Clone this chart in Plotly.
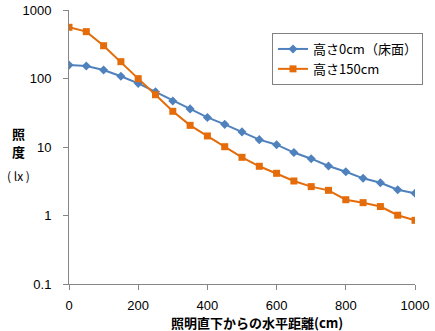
import plotly.graph_objects as go

distance = [0, 50, 100, 150, 200, 250, 300, 350, 400, 450, 500, 550, 600, 650, 700, 750, 800, 850, 900, 950, 1000]
h0 = [157, 152, 133, 108, 85, 64, 47, 36, 27, 21.4, 16.6, 12.8, 10.8, 8.3, 6.75, 5.28, 4.36, 3.49, 3.01, 2.38, 2.11]
h150 = [559, 483, 301, 176, 99.5, 58, 33.2, 20.7, 14.5, 10.1, 7.07, 5.23, 4.13, 3.19, 2.64, 2.33, 1.70, 1.54, 1.35, 1.01, 0.85]
names = ["高さ0cm（床面）", "高さ150cm"]
x_ticks = [0, 200, 400, 600, 800, 1000]
y_ticks = [0.1, 1, 10, 100, 1000]
y_ticklabels = ["0.1", "1", "10", "100", "1000"]

FONT = "Noto Sans CJK JP"
NUMFONT = "Liberation Sans"
W, H = 435, 331
L, R, T, B = 69, 20, 10, 47
PW, PH = W - L - R, H - T - B

fig = go.Figure()
fig.add_trace(go.Scatter(x=distance, y=h0, name=names[0], mode="lines+markers",
                         line=dict(color="#4F81BD", width=2),
                         marker=dict(symbol="diamond", size=7, color="#4F81BD")))
fig.add_trace(go.Scatter(x=distance, y=h150, name=names[1], mode="lines+markers",
                         line=dict(color="#E46C0A", width=2),
                         marker=dict(symbol="square", size=7, color="#E46C0A")))

fig.update_layout(
    width=W, height=H,
    margin=dict(l=L, r=R, t=T, b=B, autoexpand=False),
    plot_bgcolor="white", paper_bgcolor="white",
    font=dict(family=FONT, size=13, color="black"),
    showlegend=True,
    legend=dict(x=(423 - L) / PW, y=1 - (33 - T) / PH,
                xanchor="right", yanchor="top",
                bordercolor="#808080", borderwidth=1, bgcolor="white",
                font=dict(family=FONT, size=13, color="black"),
                tracegroupgap=0, itemwidth=30),
    xaxis=dict(range=[0, 1000], tickvals=x_ticks, showgrid=False, zeroline=False,
               showline=True, linecolor="#868686", linewidth=1,
               ticks="outside", ticklen=5, tickcolor="#868686",
               ticklabelstandoff=4, ticklabeloverflow="allow",
               tickfont=dict(family=NUMFONT, size=13, color="black")),
    yaxis=dict(type="log", range=[-1, 3], tickvals=y_ticks, ticktext=y_ticklabels,
               showgrid=False, zeroline=False,
               showline=True, linecolor="#868686", linewidth=1,
               ticks="outside", ticklen=5, tickcolor="#868686",
               ticklabelstandoff=9, ticklabeloverflow="allow",
               tickfont=dict(family=NUMFONT, size=13, color="black")),
)

fig.add_annotation(text="<b>照明直下からの水平距離(cm)</b>", xref="paper", yref="paper",
                   x=(257 - L) / PW, y=-(322 - (H - B)) / PH,
                   xanchor="center", yanchor="middle", showarrow=False,
                   font=dict(family=FONT, size=13, color="black"))
fig.add_annotation(text="<b>照</b>", xref="paper", yref="paper",
                   x=-(L - 19) / PW, y=1 - (133 - T) / PH,
                   xanchor="center", yanchor="middle", showarrow=False,
                   font=dict(family=FONT, size=13, color="black"))
fig.add_annotation(text="<b>度</b>", xref="paper", yref="paper",
                   x=-(L - 19) / PW, y=1 - (151 - T) / PH,
                   xanchor="center", yanchor="middle", showarrow=False,
                   font=dict(family=FONT, size=13, color="black"))
fig.add_annotation(text="( lx )", xref="paper", yref="paper",
                   x=-(L - 18) / PW, y=1 - (175 - T) / PH,
                   xanchor="center", yanchor="middle", showarrow=False,
                   font=dict(family=FONT, size=12, color="black"))

fig.write_html("out.html")
